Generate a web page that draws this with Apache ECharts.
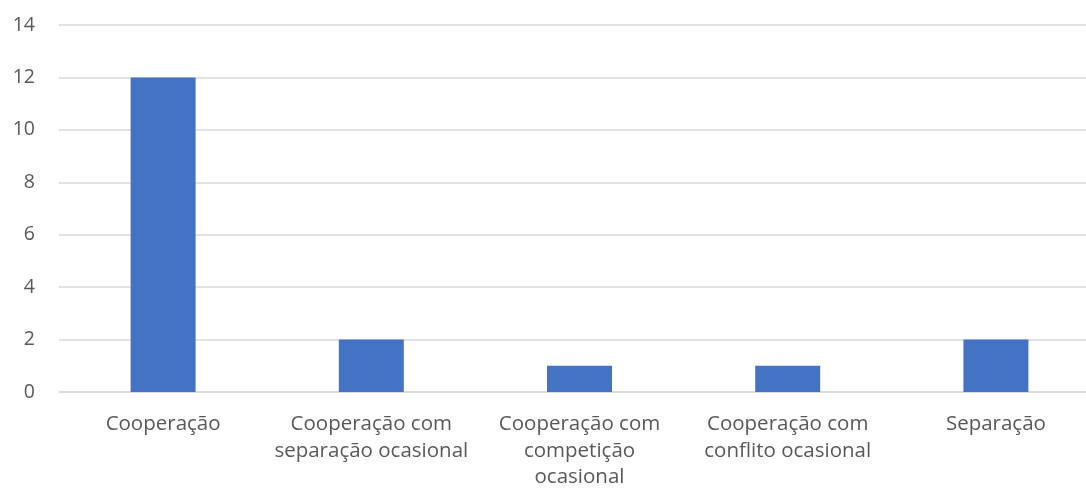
<!DOCTYPE html>
<html>
<head>
<meta charset="utf-8">
<script src="https://cdn.jsdelivr.net/npm/echarts@6/dist/echarts.min.js"></script>
<style>
  html, body { margin: 0; padding: 0; background: #fff; overflow: hidden; }
  #chart { width: 1100px; height: 488px; }
</style>
</head>
<body>
<div id="chart"></div>
<script>
// Tipos de interação observados
const categories = [
  'Cooperação',
  'Cooperação com\nseparação ocasional',
  'Cooperação com\ncompetição\nocasional',
  'Cooperação com\nconflito ocasional',
  'Separação'
];
const counts = [12, 2, 1, 1, 2];
const yTicks = { min: 0, max: 14, interval: 2 };

const chart = echarts.init(document.getElementById('chart'));
chart.setOption({
  animation: false,
  textStyle: { fontFamily: '"Open Sans", sans-serif' },
  grid: {
    left: 59, top: 25, right: 0, height: 367,
    containLabel: false, outerBoundsMode: 'none'
  },
  xAxis: {
    type: 'category',
    data: categories,
    axisTick: { show: false },
    axisLine: { show: true, lineStyle: { color: '#d9d9d9', width: 1.5 } },
    axisLabel: {
      interval: 0,
      color: '#595959',
      fontSize: 20.5,
      lineHeight: 26.5,
      margin: 19,
      fontFamily: '"Open Sans", sans-serif'
    }
  },
  yAxis: {
    type: 'value',
    min: yTicks.min,
    max: yTicks.max,
    interval: yTicks.interval,
    axisLine: { show: false },
    axisTick: { show: false },
    splitLine: { lineStyle: { color: '#d9d9d9', width: 1.5 } },
    axisLabel: { color: '#595959', fontSize: 19.5, margin: 24 }
  },
  series: [{
    type: 'bar',
    data: counts,
    barWidth: 65,
    itemStyle: { color: '#4472c4' }
  }]
});
</script>
</body>
</html>
